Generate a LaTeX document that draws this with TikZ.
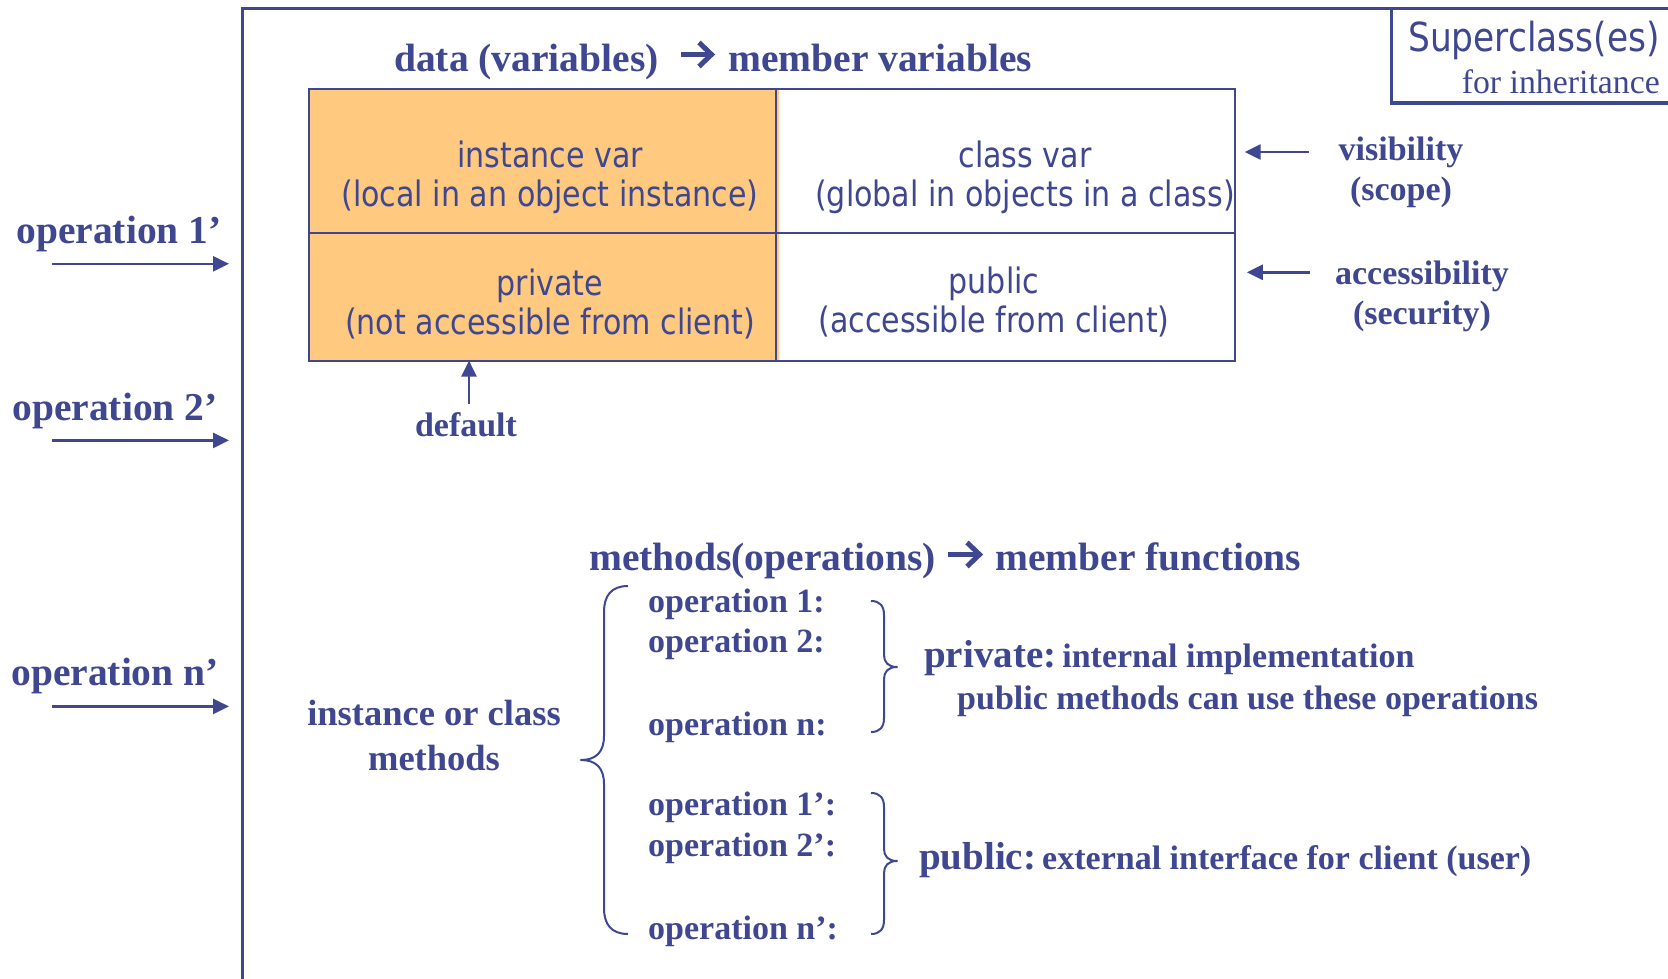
\documentclass[tikz,border=0pt]{standalone}
\usepackage{fontspec}
\setmainfont{Liberation Serif}
\newfontfamily\tfont{DejaVu Sans}[FakeStretch=0.86]
\usetikzlibrary{arrows.meta}
\definecolor{ink}{RGB}{62,71,143}
\definecolor{fillor}{RGB}{255,201,127}
\tikzset{
  frameline/.style={draw=ink, line width=3.5pt},
  gridline/.style={draw=ink, line width=2pt},
  bracestroke/.style={draw=ink, line width=2pt, line join=round},
  arr/.style={draw=ink, line width=2.5pt, -{Triangle[length=16pt,width=15pt]}},
  bigarrow/.style={draw=ink, line width=5pt, miter limit=10},
  headtxt/.style={text=ink, inner sep=0pt, font=\fontsize{39.5}{47}\selectfont\bfseries},
  optxt/.style={text=ink, inner sep=0pt, font=\fontsize{34}{40}\selectfont\bfseries},
  labtxt/.style={text=ink, inner sep=0pt, align=center, font=\fontsize{34}{40}\selectfont\bfseries},
  celltxt/.style={text=ink, inner sep=0pt, align=center, font=\tfont\fontsize{35}{39}\selectfont},
}
\begin{document}
\begin{tikzpicture}[x=1pt,y=-1pt]
\useasboundingbox (0,0) rectangle (1668,979);
\fill[white] (0,0) rectangle (1668,979);

% outer class frame and superclass tab
\draw[frameline] (242.6,990) -- (242.6,8.5) -- (1680,8.5);
\draw[frameline] (1391.5,8.5) -- (1391.5,103) -- (1680,103);
\node[text=ink, inner sep=0pt, font=\tfont\fontsize{40}{44}\selectfont] (super) at (1534,40) {Superclass(es)};
\node[text=ink, inner sep=0pt, anchor=east, font=\fontsize{33.8}{40}\selectfont] (inherit) at (1660,82) {for inheritance};

% data members
\node[headtxt, anchor=base west] (dataA) at (394,72) {data (variables)};
\node[headtxt, anchor=base west] (dataB) at (728,72) {member variables};
\draw[bigarrow] (680.7,54.5) -- (711,54.5);
\draw[bigarrow] (699,42.5) -- (711.5,54.5) -- (699,66.5);

% member variable table
\fill[fillor] (308.5,89.4) rectangle (778.5,360.6);
\draw[gridline] (308.5,89.4) rectangle (1235,360.6);
\draw[gridline] (308.5,233) -- (1235,233);
\draw[gridline] (775.5,89.4) -- (775.5,360.6);
\coordinate (tblVis) at (1244.7,152);
\coordinate (tblAcc) at (1246.8,272.3);
\coordinate (tblDef) at (469,360.6);

\node[celltxt] (inst) at (550,177.2) {instance var\\(local in an object instance)};
\node[celltxt] (cls) at (1025,177.2) {class var\\(global in objects in a class)};
\node[celltxt] (priv) at (550,304.2) {private\\(not accessible from client)};
\node[celltxt] (pub) at (994,302) {public\\(accessible from client)};

% side annotations
\node[labtxt] (vis) at (1401,172.2) {visibility\\(scope)};
\node[labtxt] (acc) at (1422,296.2) {accessibility\\(security)};
\coordinate (visFrom) at (1308.5,152);
\coordinate (accFrom) at (1309.6,272.3);
\draw[arr] (visFrom) -- (tblVis);
\draw[arr] (accFrom) -- (tblAcc);

\node[labtxt] (dflt) at (466,424.5) {default};
\coordinate (dfltFrom) at (469,404);
\draw[arr] (dfltFrom) -- (tblDef);

% incoming public operations
\node[headtxt] (in1) at (119,234.2) {operation 1’};
\node[headtxt] (in2) at (115,411.4) {operation 2’};
\node[headtxt] (inn) at (115,676.3) {operation n’};
\coordinate (in1a) at (52,263.8);   \coordinate (in1b) at (229,263.8);
\coordinate (in2a) at (52,440.4);   \coordinate (in2b) at (229,440.4);
\coordinate (inna) at (52,706.4);   \coordinate (innb) at (229,706.4);
\draw[arr] (in1a) -- (in1b);
\draw[arr] (in2a) -- (in2b);
\draw[arr] (inna) -- (innb);

% member functions
\node[headtxt, anchor=base west] (methA) at (589,570.5) {methods(operations)};
\node[headtxt, anchor=base west] (methB) at (995,570.5) {member functions};
\draw[bigarrow] (948,554.5) -- (979,554.5);
\draw[bigarrow] (967,542.5) -- (979.5,554.5) -- (967,566.5);

\node[text=ink, inner sep=0pt, align=center, font=\fontsize{36.5}{45}\selectfont\bfseries] (kind) at (434,735.8) {instance or class\\methods};

\draw[bracestroke] (628,586) .. controls (611,586) and (604,596) .. (604,612)
  -- (604,736) .. controls (604,752) and (596,760) .. (581,760)
  .. controls (596,760) and (604,768) .. (604,784)
  -- (604,908) .. controls (604,924) and (611,934) .. (628,934);

\node[optxt, anchor=west] (op1) at (648,604.2) {operation 1:};
\node[optxt, anchor=west] (op2) at (648,644.2) {operation 2:};
\node[optxt, anchor=west] (opn) at (648,727.2) {operation n:};
\node[optxt, anchor=west] (op1p) at (648,807.2) {operation 1’:};
\node[optxt, anchor=west] (op2p) at (648,848.2) {operation 2’:};
\node[optxt, anchor=west] (opnp) at (648,931.2) {operation n’:};

\draw[bracestroke] (871,601) .. controls (880,601) and (884,606) .. (884,615)
  -- (884,655) .. controls (884,662) and (888,667) .. (897,667)
  .. controls (888,667) and (884,672) .. (884,679)
  -- (884,718) .. controls (884,727) and (880,732) .. (871,732);
\draw[bracestroke] (871,793) .. controls (880,793) and (884,798) .. (884,807)
  -- (884,849) .. controls (884,856) and (888,861) .. (897,861)
  .. controls (888,861) and (884,866) .. (884,873)
  -- (884,920) .. controls (884,929) and (880,934) .. (871,934);

\node[optxt, anchor=west] (privTxt) at (924,658.2) {{\fontsize{39}{44}\selectfont private:}\hspace{6pt}internal implementation};
\node[optxt, anchor=west] (privUse) at (957,701.2) {public methods can use these operations};
\node[optxt, anchor=west] (pubTxt) at (919,860.2) {{\fontsize{39}{44}\selectfont public:}\hspace{6pt}external interface for client (user)};
\end{tikzpicture}
\end{document}
